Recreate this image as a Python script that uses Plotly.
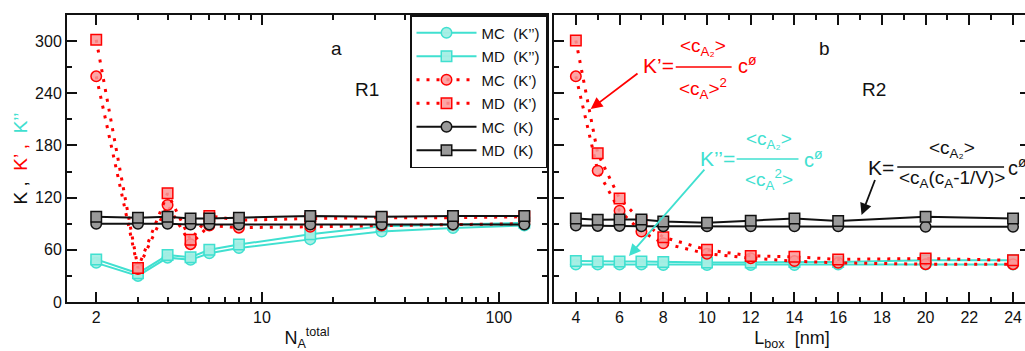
import plotly.graph_objects as go

FONT = "Liberation Sans, Arial, Helvetica, sans-serif"
RED = "#ff0000"
CYAN = "#40e0d0"
BLACK = "#111111"

# ---------------- data ----------------
left_x = [2, 3, 4, 5, 6, 8, 16, 32, 64, 128]
left_mc_k2 = [45, 30, 51, 48.5, 56, 62, 72, 81, 85, 88]
left_md_k2 = [49, 33, 54, 51.5, 60, 66, 78, 87, 89, 91]
left_mc_k1 = [259.5, 38, 111.5, 66.5, 88, 85.5, 86.5, 88, 89, 90]
left_md_k1 = [301.5, 39, 125, 71.5, 99, 94, 96, 97, 97, 98]
left_mc_k = [90, 90, 90, 89, 89, 89, 89, 89, 89, 89]
left_md_k = [98, 97, 98, 96, 96, 97, 99, 98, 99, 99]

right_x = [4, 5, 6, 7, 8, 10, 12, 14, 16, 20, 24]
right_mc_k2 = [43, 43, 43, 43, 42.5, 42.5, 42.5, 42.5, 43, 43, 43]
right_md_k2 = [47, 46.5, 46.5, 46.5, 46, 45.5, 45.5, 46, 46, 48, 48]
right_mc_k1 = [259.5, 151, 105, 81, 67.6, 55.4, 50.4, 47, 45, 43.5, 43.5]
right_md_k1 = [300.7, 171, 119, 93, 74.5, 60, 53, 52, 49, 50, 48]
right_mc_k = [88, 87.5, 87.5, 87, 87, 87, 87, 87, 87, 86.5, 86.5]
right_md_k = [96, 94.5, 95, 95, 92.5, 91, 93.5, 96, 93, 98, 96]

series_names = ["MC  (K’’)", "MD  (K’’)", "MC  (K’)", "MD  (K’)", "MC  (K)", "MD  (K)"]
left_series = [left_mc_k2, left_md_k2, left_mc_k1, left_md_k1, left_mc_k, left_md_k]
right_series = [right_mc_k2, right_md_k2, right_mc_k1, right_md_k1, right_mc_k, right_md_k]

styles = [
    dict(color=CYAN, fill="rgba(165,238,228,0.95)", symbol="circle", dash="solid", width=2),
    dict(color=CYAN, fill="rgba(165,238,228,0.95)", symbol="square", dash="solid", width=2),
    dict(color=RED, fill="rgba(250,150,150,0.85)", symbol="circle", dash="3px,7px", width=3),
    dict(color=RED, fill="rgba(250,150,150,0.85)", symbol="square", dash="3px,7px", width=3),
    dict(color=BLACK, fill="#9a9a9a", symbol="circle", dash="solid", width=2),
    dict(color=BLACK, fill="#9a9a9a", symbol="square", dash="solid", width=2),
]

fig = go.Figure()

for i, (name, st) in enumerate(zip(series_names, styles)):
    for xs, ys, xa, ya, show in [(left_x, left_series[i], "x", "y", True),
                                 (right_x, right_series[i], "x2", "y2", False)]:
        fig.add_trace(go.Scatter(
            x=xs, y=ys, xaxis=xa, yaxis=ya, name=name, showlegend=show,
            legendgroup="g%d" % i, mode="lines+markers",
            line=dict(color=st["color"], width=st["width"], dash=st["dash"]),
            marker=dict(symbol=st["symbol"], size=10.5, color=st["fill"],
                        line=dict(color=st["color"], width=1.5)),
        ))

# ---------------- layout ----------------
# figure slightly wider than the window so the right panel's right frame is cut off
W, H = 1032, 351
ML, MR, MT, MB = 67, 0, 15, 49
PW, PH = W - ML - MR, H - MT - MB


def px(x):
    return (x - ML) / PW


def py(y):
    return (H - MB - y) / PH


d_left = [0, px(548)]
d_right = [px(555), 1]

axis_common = dict(
    showline=True, linewidth=2, linecolor=BLACK, mirror="ticks",
    ticks="inside", ticklen=10, tickwidth=1.5, tickcolor=BLACK,
    showgrid=False, zeroline=False,
    tickfont=dict(size=16, color=BLACK, family=FONT),
)

fig.update_layout(
    width=W, height=H,
    margin=dict(l=ML, r=MR, t=MT, b=MB),
    plot_bgcolor="white", paper_bgcolor="white",
    font=dict(family=FONT, color=BLACK),
    xaxis=dict(
        type="log", domain=d_left, range=[0.1777, 2.2029], anchor="y",
        tickmode="array", tickvals=[2, 10, 100], ticktext=["2", "10", "100"],
        minor=dict(tickmode="array", tickvals=[3, 4, 5, 6, 7, 8, 9, 20, 30, 40, 50, 60, 70, 80, 90],
                   ticks="inside", ticklen=5, tickwidth=1.5, tickcolor=BLACK, showgrid=False),
        title=dict(text="N<sub>A</sub><sup>total</sup>", font=dict(size=18, family=FONT), standoff=6),
        **axis_common,
    ),
    yaxis=dict(
        domain=[0, 1], range=[0, 330], anchor="x", tick0=0, dtick=60,
        minor=dict(dtick=30, ticks="inside", ticklen=5, tickwidth=1.5, tickcolor=BLACK, showgrid=False),
        title=dict(text="<span style='color:#111111'>K ,</span>  <span style='color:#ff0000'>K’ ,</span>  "
                        "<span style='color:#40e0d0'>K’’</span>",
                   font=dict(size=19, family=FONT), standoff=2),
        **axis_common,
    ),
    xaxis2=dict(
        domain=d_right, range=[3.0, 24 + (W - 1015) / 21.915], anchor="y2", tick0=0, dtick=2,
        minor=dict(dtick=1, ticks="inside", ticklen=5, tickwidth=1.5, tickcolor=BLACK, showgrid=False),
        title=dict(text="L<sub>box</sub>  [nm]", font=dict(size=18, family=FONT), standoff=6),
        **axis_common,
    ),
    yaxis2=dict(
        domain=[0, 1], range=[0, 330], anchor="x2", tick0=0, dtick=60, showticklabels=False,
        minor=dict(dtick=30, ticks="inside", ticklen=5, tickwidth=1.5, tickcolor=BLACK, showgrid=False),
        **axis_common,
    ),
    legend=dict(
        x=px(548), xanchor="right", y=1, yanchor="top",
        bordercolor=BLACK, borderwidth=1.5, bgcolor="white",
        font=dict(size=15, family=FONT, color=BLACK),
        tracegroupgap=1, itemwidth=60,
    ),
)

ann = []


def text(x, y, t, size, color, xanchor="center"):
    ann.append(dict(x=px(x), y=py(y), xref="paper", yref="paper", text=t, showarrow=False,
                    font=dict(size=size, color=color, family=FONT), xanchor=xanchor, yanchor="middle"))


text(337, 48, "a", 19, BLACK)
text(368, 90, "R1", 19, BLACK)
text(826, 48, "b", 19, BLACK)
text(876, 90, "R2", 19, BLACK)

num = "&lt;c<sub>A₂</sub>&gt;"

# K' formula (red)
text(660, 65, "K’=", 21, RED)
text(704, 47, num, 19, RED)
text(704, 88, "&lt;c<sub>A</sub>&gt;<sup>2</sup>", 19, RED)
text(737, 64, "c<sup>ø</sup>", 20, RED, "left")
# K'' formula (cyan)
text(719, 158, "K’’=", 21, CYAN)
text(770, 140, num, 19, CYAN)
text(770, 179, "&lt;c<sub>A</sub><sup>2</sup>&gt;", 19, CYAN)
text(804, 158, "c<sup>ø</sup>", 20, CYAN, "left")
# K formula (black)
text(883, 167, "K=", 21, BLACK)
text(954, 149, num, 19, BLACK)
text(954, 179, "&lt;c<sub>A</sub>(c<sub>A</sub>-1/V)&gt;", 19, BLACK)
text(1008, 166, "c<sup>ø</sup>", 20, BLACK, "left")

# arrows (head at data point region of right panel)
for (hx, hy, tx, ty, col) in [(4.68, 222, 6.89, 264, RED),
                              (6.43, 53, 9.94, 154, CYAN),
                              (17.07, 100, 17.71, 142, BLACK)]:
    ann.append(dict(x=hx, y=hy, xref="x2", yref="y2", ax=tx, ay=ty, axref="x2", ayref="y2",
                    text="", showarrow=True, arrowhead=2, arrowsize=1.3, arrowwidth=1.8,
                    arrowcolor=col, standoff=0))

fig.update_layout(annotations=ann)

shapes = []
for (x0, x1, y, col) in [(677, 733, 67, RED), (738, 800, 159, CYAN), (899, 1006, 167, BLACK)]:
    shapes.append(dict(type="line", xref="paper", yref="paper", x0=px(x0), x1=px(x1),
                       y0=py(y), y1=py(y), line=dict(color=col, width=1.5)))
fig.update_layout(shapes=shapes)

fig.write_html("out.html", config={"displayModeBar": False},
               post_script="document.body.style.margin='0';document.body.style.overflow='hidden';")
